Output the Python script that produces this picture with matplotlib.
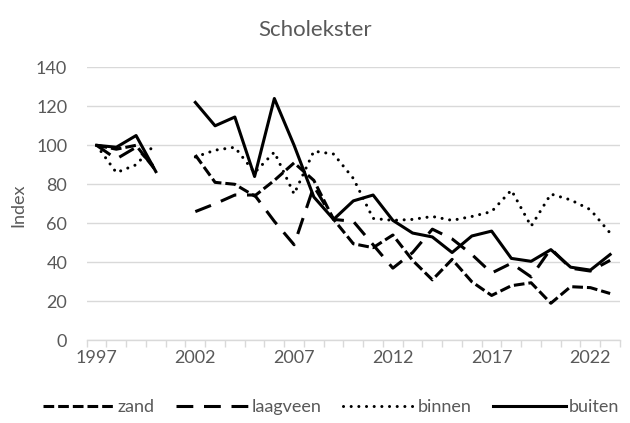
import numpy as np
import matplotlib.pyplot as plt

# Scholekster index per gebied, 2001 ontbreekt
years = list(range(1997, 2024))
zand = [100, 98, 100, 87, np.nan, 95, 81, 80, 74, 82, 91, 82, 62, 49.5, 47.5,
        54, 41, 31, 41.5, 30, 23, 28, 29.5, 19, 27.5, 27, 24]
laagveen = [100, 93, 99, 88, np.nan, 66, 70, 74.5, 74.5, 61, 49, 79, 62, 61, 49,
            37, 45, 57, 52, 44, 34.5, 39.5, 32.5, 47, 37, 35.5, 41]
binnen = [100, 86, 90, 101, np.nan, 94, 97.5, 99, 86, 96.5, 75, 97, 95.5, 83, 62.5,
          61.5, 62, 63.5, 61.5, 63.5, 66, 77, 58.5, 75, 72, 67, 55]
buiten = [100, 99, 105, 86.5, np.nan, 122, 110, 114.5, 84, 124, 100, 73.5, 62, 71.5,
          74.5, 61.5, 55, 53, 45, 53.5, 56, 42, 40.5, 46.5, 37.5, 36, 44]
label_years = [1997, 2002, 2007, 2012, 2017, 2022]
y_ticks = [0, 20, 40, 60, 80, 100, 120, 140]

grey = "#595959"
plt.rcParams["font.family"] = ["Lato", "DejaVu Sans"]

fig = plt.figure(figsize=(6.3, 4.23), dpi=100)
ax = fig.add_axes([86.7 / 630, 1 - 340.3 / 423, (620 - 86.7) / 630, (340.3 - 67.3) / 423])

x = np.arange(len(years))
lw = 2.2
ax.plot(x, zand, color="black", lw=lw, dashes=(3.5, 1.3), label="zand")
ax.plot(x, laagveen, color="black", lw=lw, dashes=(5.5, 3.5), label="laagveen")
ax.plot(x, binnen, color="black", lw=lw, dashes=(0.01, 2.5), dash_capstyle="round",
        label="binnen")
ax.plot(x, buiten, color="black", lw=lw, label="buiten")

ax.set_xlim(-0.5, len(years) - 0.5)
ax.set_ylim(0, 140)
ax.set_yticks(y_ticks)
ax.yaxis.grid(True, color="#d9d9d9", lw=1)
ax.set_axisbelow(True)

ax.set_xticks([years.index(y) for y in label_years])
ax.set_xticklabels([str(y) for y in label_years])
ax.set_xticks(np.arange(-0.5, len(years)), minor=True)
ax.tick_params(axis="x", which="major", length=0, pad=7, labelsize=13, labelcolor=grey)
ax.tick_params(axis="x", which="minor", length=5, color="#d9d9d9", width=1)
ax.tick_params(axis="y", length=0, pad=14, labelsize=13, labelcolor=grey)

for s in ["top", "right", "left"]:
    ax.spines[s].set_visible(False)
ax.spines["bottom"].set_color("#d9d9d9")
ax.spines["bottom"].set_linewidth(1)

fig.text(0.5, 1 - 30 / 423, "Scholekster", ha="center", va="center", fontsize=16, color=grey)
fig.text(18 / 630, 1 - 205 / 423, "Index", rotation=90, ha="center", va="center",
         fontsize=13, color=grey)

fig.legend(loc="center", bbox_to_anchor=(0.525, 1 - 407 / 423), ncol=4, frameon=False,
           handlelength=4.0, handletextpad=0.15, columnspacing=1.2, fontsize=13,
           labelcolor=grey)

fig.savefig("out.png", dpi=100)
